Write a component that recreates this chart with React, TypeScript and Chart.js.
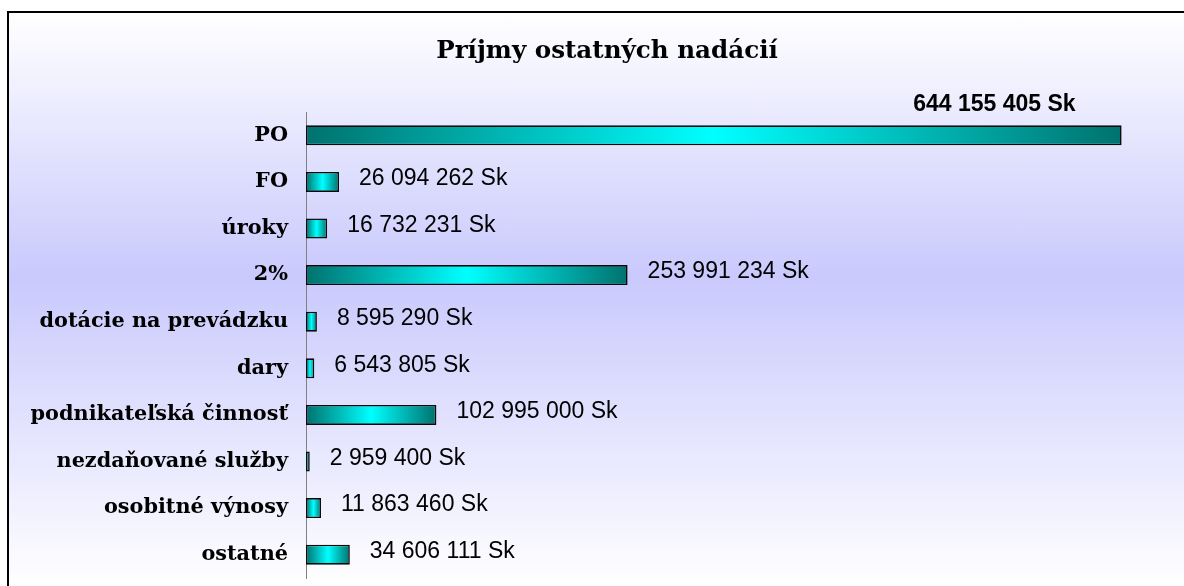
import { useEffect, useRef } from 'react';
import { Chart, registerables } from 'chart.js';

Chart.register(...registerables);

const TITLE = 'Príjmy ostatných nadácií';

const categories = [
  'PO',
  'FO',
  'úroky',
  '2%',
  'dotácie na prevádzku',
  'dary',
  'podnikateľská činnosť',
  'nezdaňované služby',
  'osobitné výnosy',
  'ostatné',
];

const values = [
  644155405, 26094262, 16732231, 253991234, 8595290, 6543805, 102995000, 2959400, 11863460, 34606111,
];

const X_MAX = 680000000;

function formatSk(v: number): string {
  return String(v).replace(/\B(?=(\d{3})+(?!\d))/g, ' ') + ' Sk';
}

const valueLabels = values.map(formatSk);

export default function App() {
  const canvasRef = useRef<HTMLCanvasElement | null>(null);

  useEffect(() => {
    const canvas = canvasRef.current;
    if (!canvas) return;

    const labelPlugin = {
      id: 'valueLabels',
      afterDatasetsDraw(chart: any) {
        const c = chart.ctx as CanvasRenderingContext2D;
        const meta = chart.getDatasetMeta(0);
        c.save();
        c.fillStyle = '#000';
        c.textBaseline = 'middle';
        meta.data.forEach((bar: any, i: number) => {
          const text = valueLabels[i];
          c.font = '23px "Liberation Sans", Arial, sans-serif';
          const w = c.measureText(text).width;
          if (bar.x + 22 + w > chart.width) {
            c.font = 'bold 23px "Liberation Sans", Arial, sans-serif';
            c.textAlign = 'right';
            c.fillText(text, bar.x - 46, bar.y - 31);
          } else {
            c.textAlign = 'left';
            c.fillText(text, bar.x + 20, bar.y - 3);
          }
        });
        c.restore();
      },
      afterDraw(chart: any) {
        const c = chart.ctx as CanvasRenderingContext2D;
        c.save();
        c.fillStyle = '#000';
        c.font = 'bold 24.6px "DejaVu Serif", serif';
        c.textAlign = 'center';
        c.textBaseline = 'middle';
        c.fillText(TITLE, 607, 52);
        c.restore();
      },
    };

    const chart = new Chart(canvas, {
      type: 'bar',
      data: {
        labels: categories,
        datasets: [
          {
            data: values,
            backgroundColor: (ctx: any) => {
              const ch = ctx.chart;
              if (!ch.chartArea || ctx.type !== 'data' || !ch.scales.x) return '#00cccc';
              const x0 = ch.scales.x.getPixelForValue(0);
              const x1 = ch.scales.x.getPixelForValue(values[ctx.dataIndex]);
              const g = ch.ctx.createLinearGradient(x0, 0, Math.max(x1, x0 + 1), 0);
              g.addColorStop(0, '#00726e');
              g.addColorStop(0.5, '#00ffff');
              g.addColorStop(1, '#00726e');
              return g;
            },
            borderColor: '#0a0a0a',
            borderWidth: 1.6,
            borderSkipped: false,
            barPercentage: 0.43,
            categoryPercentage: 1,
          },
        ],
      },
      options: {
        indexAxis: 'y',
        responsive: false,
        animation: false,
        devicePixelRatio: 1,
        layout: { padding: { top: 112, bottom: 8, left: 0, right: 17 } },
        scales: {
          x: { display: false, min: 0, max: X_MAX },
          y: {
            grid: { display: false, drawTicks: false },
            border: { display: true, color: '#808080', width: 1 },
            ticks: {
              color: '#000',
              padding: 18,
              font: { family: '"DejaVu Serif", serif', weight: 'bold', size: 20.8 },
            },
            afterFit: (s: any) => {
              s.width = 306;
              s.paddingTop = 0;
              s.paddingBottom = 0;
            },
          },
        },
        plugins: {
          legend: { display: false },
          tooltip: { enabled: false },
          title: { display: false },
        },
      },
      plugins: [labelPlugin],
    } as any);

    return () => chart.destroy();
  }, []);

  return (
    <div
      style={{
        position: 'fixed',
        left: 0,
        top: 0,
        width: 1184,
        height: 586,
        background: '#fff',
        overflow: 'hidden',
      }}
    >
      <div
        style={{
          position: 'absolute',
          left: 7,
          top: 11,
          width: 1200,
          height: 575,
          boxSizing: 'border-box',
          borderLeft: '2px solid #000',
          borderTop: '2px solid #000',
          background: 'linear-gradient(to bottom, #ffffff 0%, #c9c9fd 46%, #ffffff 100%)',
        }}
      />
      <canvas
        ref={canvasRef}
        width={1184}
        height={586}
        style={{ position: 'absolute', left: 0, top: 0, width: 1184, height: 586 }}
      />
    </div>
  );
}
